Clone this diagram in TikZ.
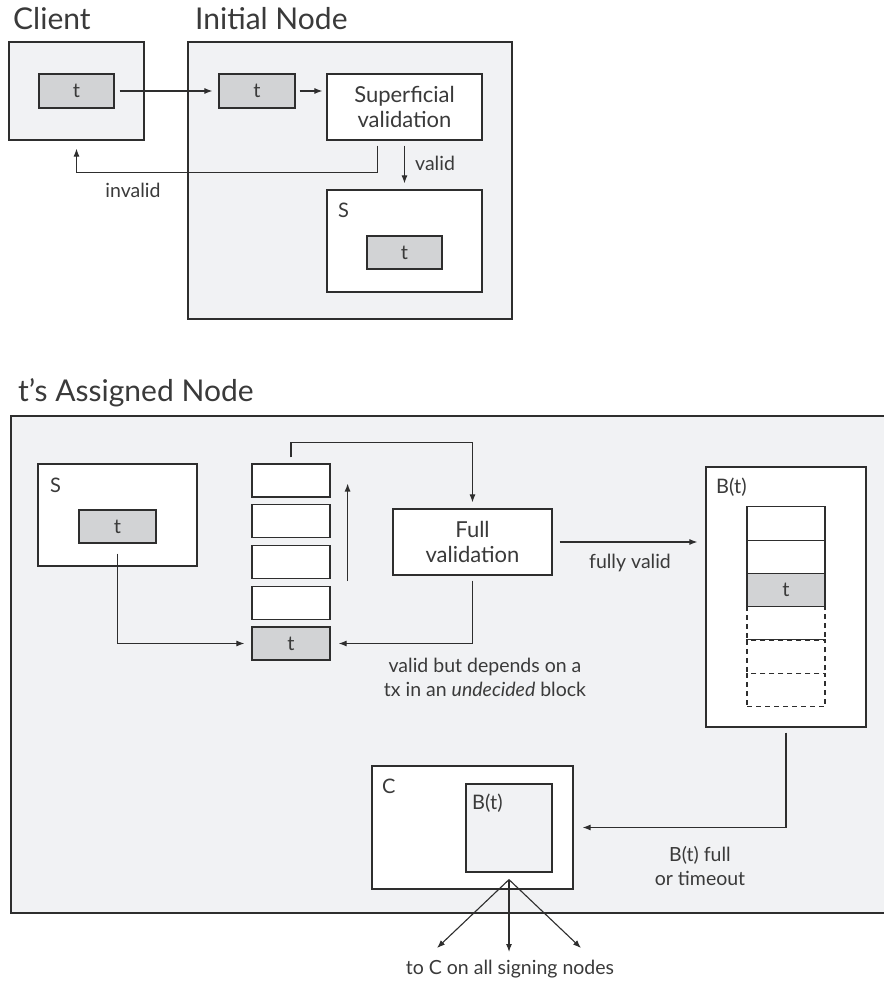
\documentclass[tikz,border=0pt]{standalone}
\usepackage{fontspec}
\setmainfont{Lato}
\usetikzlibrary{arrows.meta,calc}
\definecolor{bg}{HTML}{F1F2F4}
\definecolor{tg}{HTML}{D2D3D5}
\definecolor{ln}{HTML}{2E2E2E}
\definecolor{tx}{HTML}{3A3A3A}
\tikzset{
 box/.style={draw=ln, line width=1.2pt, inner sep=0pt, text=tx, font=\fontsize{22}{25}\selectfont, align=center},
 panel/.style={box, fill=bg},
 wbox/.style={box, fill=white},
 tbox/.style={box, fill=tg},
 dbox/.style={box, fill=white, dashed, dash pattern=on 5pt off 4pt},
 arr/.style={draw=ln, line width=1.1pt, -{Latex[length=8pt,width=6pt]}},
 lbl/.style={text=tx, font=\fontsize{19.5}{24}\selectfont, inner sep=0pt, align=center},
 ttl/.style={text=tx, font=\fontsize{30}{36}\selectfont, inner sep=0pt, anchor=base west},
 blbl/.style={text=tx, font=\fontsize{20}{24}\selectfont, inner sep=0pt, anchor=base west},
}
\begin{document}
\begin{tikzpicture}[x=1pt,y=-1pt]
\useasboundingbox[fill=white] (0,0) rectangle (883,982);

% ---------- top section ----------
\node[ttl] (tclient) at (13,30) {Client};
\node[ttl] (tinit) at (195,30) {Initial Node};

\node[panel, minimum width=135pt, minimum height=98pt] (cl) at (76.5,91) {};
\node[tbox, font=\fontsize{20}{24}\selectfont, minimum width=75pt, minimum height=34pt] (ct) at (76.5,91) {t};

\node[panel, minimum width=324pt, minimum height=277pt] (in) at (350,180.5) {};
\node[tbox, font=\fontsize{20}{24}\selectfont, minimum width=76pt, minimum height=34pt] (it) at (257,91) {t};
\node[wbox, minimum width=155pt, minimum height=66pt] (sv) at (404.5,107) {Superficial\\validation};
\node[wbox, minimum width=155pt, minimum height=102pt] (s1) at (404.5,241) {};
\node[blbl] (s1l) at (338,217) {S};
\node[tbox, font=\fontsize{20}{24}\selectfont, minimum width=75pt, minimum height=33pt] (st1) at (404.5,252.5) {t};

\draw[arr] ([xshift=5pt]ct.east) -- ([xshift=-6pt]it.west);
\draw[arr] ([xshift=4pt]it.east) -- ([xshift=-4pt]it.east -| sv.west);
\draw[arr] ([xshift=51pt,yshift=-5pt]sv.south west) |- ($(cl.south)+(0,32)$) -- ([yshift=-8pt]cl.south);
\node[lbl] (linv) at (133,190) {invalid};
\draw[arr] ([yshift=-5pt]sv.south) -- ([yshift=6pt]s1.north);
\node[lbl, anchor=west] (lval) at (415,163) {valid};

% ---------- assigned node ----------
\node[ttl] (tass) at (18,401) {t’s Assigned Node};
\node[panel, minimum width=989pt, minimum height=497pt] (an) at (505.5,664.5) {};

\node[wbox, minimum width=159pt, minimum height=102pt] (s2) at (117.5,515) {};
\node[blbl] (s2l) at (50,492) {S};
\node[tbox, font=\fontsize{20}{24}\selectfont, minimum width=77pt, minimum height=33pt] (t2) at (117.5,526.5) {t};

\node[wbox, minimum width=78pt, minimum height=33pt] (q1) at (291,480.5) {};
\node[wbox, minimum width=78pt, minimum height=33pt] (q2) at (291,521.25) {};
\node[wbox, minimum width=78pt, minimum height=33pt] (q3) at (291,562) {};
\node[wbox, minimum width=78pt, minimum height=33pt] (q4) at (291,602.75) {};
\node[tbox, font=\fontsize{20}{24}\selectfont, minimum width=78pt, minimum height=33pt] (q5) at (291,643.5) {t};

\node[wbox, minimum width=159pt, minimum height=66pt] (fv) at (472.5,542) {Full\\validation};

\node[wbox, minimum width=160pt, minimum height=260pt] (bt) at (786,597) {};
\node[blbl] (btl) at (716,493) {B(t)};
\node[wbox, minimum width=78pt, minimum height=33.3pt] (r1) at (786,523.5) {};
\node[wbox, minimum width=78pt, minimum height=33.3pt] (r2) at (786,556.8) {};
\node[tbox, font=\fontsize{20}{24}\selectfont, minimum width=78pt, minimum height=33.3pt] (r3) at (786,590.1) {t};
\node[dbox, minimum width=78pt, minimum height=33.3pt] (r4) at (786,623.4) {};
\node[dbox, minimum width=78pt, minimum height=33.3pt] (r5) at (786,656.7) {};
\node[dbox, minimum width=78pt, minimum height=33.3pt] (r6) at (786,690) {};

\node[wbox, minimum width=201pt, minimum height=123pt] (cbox) at (472.5,827.5) {};
\node[blbl] (cl2) at (382,793) {C};
\node[panel, minimum width=86pt, minimum height=88pt] (cb) at (509,828) {};
\node[blbl] (cbl) at (472,809) {B(t)};

% connectors
\draw[arr] ([yshift=-10pt]t2.south) |- ([xshift=-7pt]q5.west);
\draw[arr] ($(q3.south east)+(17,2)$) -- ($(q1.east)+(17,3)$);
\draw[arr] ([yshift=6pt]q1.north) -- ++(0,-15) -| ([yshift=6pt]fv.north);
\draw[arr] ([xshift=7pt]fv.east) -- ([xshift=-8pt]fv.east -| bt.west);
\node[lbl] (lfv) at (630,563) {fully valid};
\draw[arr] ([yshift=-5pt]fv.south) |- ([xshift=8pt]q5.east);
\node[lbl] (ldep) at (485,677) {valid but depends on a\\tx in an \textit{undecided} block};
\draw[arr] ([yshift=-5pt]bt.south) |- ([xshift=9pt]cbox.east);
\node[lbl] (lto) at (700,866) {B(t) full\\or timeout};

\coordinate (fo) at ([yshift=-7pt]cb.south);
\coordinate (f1) at (437,948);
\coordinate (f2) at (509,952);
\coordinate (f3) at (581,948);
\draw[arr] (fo) -- (f1);
\draw[arr] (fo) -- (f2);
\draw[arr] (fo) -- (f3);
\node[lbl] (lall) at (510,969) {to C on all signing nodes};
\end{tikzpicture}
\end{document}
